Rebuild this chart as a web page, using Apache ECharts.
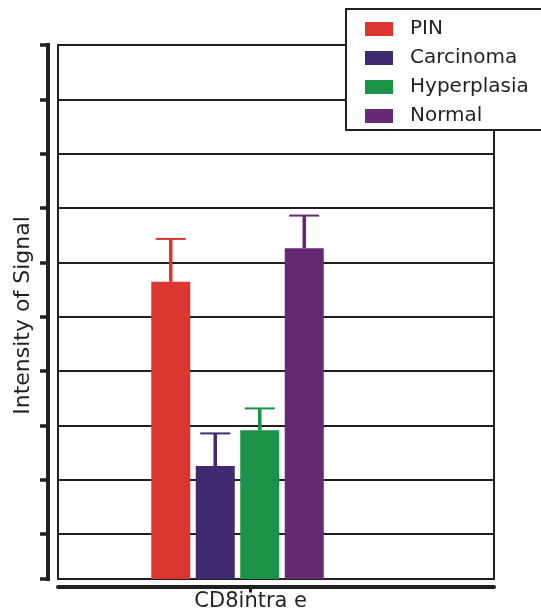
<!DOCTYPE html>
<html>
<head>
<meta charset="utf-8">
<script src="https://cdn.jsdelivr.net/npm/echarts@6/dist/echarts.min.js"></script>
<style>html,body{margin:0;padding:0;background:#fff}#c{width:541px;height:615px}</style>
</head>
<body>
<div id="c"></div>
<script>
// ---- data ----
const categories = ['CD8intra e'];
const groups = ['PIN', 'Carcinoma', 'Hyperplasia', 'Normal'];
const means = [5.47, 2.08, 2.74, 6.09];
const errors = [0.79, 0.60, 0.40, 0.60];
const axisMax = 9.83;
const axisInterval = 1;

// ---- styles ----
const colors = ['#DB3730', '#402A6F', '#1A9248', '#652873'];
const INK = '#231f20';
const FONT = 'DejaVu Sans';
const BAR_W = 39;
const BAR_GAP = 0.141;
const PITCH = BAR_W * (1 + BAR_GAP);

const chart = echarts.init(document.getElementById('c'), null, {renderer: 'canvas'});

const barSeries = groups.map((g, i) => ({
  name: g,
  type: 'bar',
  xAxisIndex: 1,
  yAxisIndex: 1,
  data: [means[i]],
  barWidth: BAR_W,
  barGap: (BAR_GAP * 100) + '%',
  itemStyle: {color: colors[i]},
  z: 2
}));

const errorSeries = {
  type: 'custom',
  xAxisIndex: 1,
  yAxisIndex: 1,
  silent: true,
  z: 3,
  data: groups.map((g, i) => [0, means[i], means[i] + errors[i], i]),
  renderItem: (params, api) => {
    const idx = api.value(3);
    const base = api.coord([api.value(0), api.value(1)]);
    const top = api.coord([api.value(0), api.value(2)]);
    const x = base[0] + (idx - 1.5) * PITCH;
    const c = colors[idx];
    return {
      type: 'group',
      children: [
        {type: 'line', shape: {x1: x, y1: base[1], x2: x, y2: top[1]}, style: {stroke: c, lineWidth: 3.5}},
        {type: 'line', shape: {x1: x - 15, y1: top[1], x2: x + 15, y2: top[1]}, style: {stroke: c, lineWidth: 2}}
      ]
    };
  }
};

chart.setOption({
  animation: false,
  textStyle: {fontFamily: FONT, color: INK},
  grid: [
    {left: 58, top: 45, width: 436, height: 534, show: true, borderColor: INK, borderWidth: 2, backgroundColor: 'transparent'},
    {left: 58, top: 45, width: 359, height: 534},
    {left: 58, top: 45, width: 385.4, height: 534}
  ],
  xAxis: [
    {gridIndex: 0, type: 'category', data: [''], position: 'bottom', offset: 7.5,
     axisLine: {show: true, onZero: false, lineStyle: {color: INK, width: 4}},
     axisTick: {show: false}, axisLabel: {show: false}, splitLine: {show: false}},
    {gridIndex: 1, type: 'category', data: categories, show: false},
    {gridIndex: 2, type: 'category', data: categories, position: 'bottom', offset: 7.5,
     axisLine: {show: false, onZero: false},
     axisTick: {show: true, alignWithLabel: true, length: 6, lineStyle: {color: INK, width: 3}},
     axisLabel: {margin: 5, fontSize: 21, color: INK, fontFamily: FONT},
     splitLine: {show: false}}
  ],
  yAxis: [
    {gridIndex: 0, type: 'value', inverse: true, min: 0, max: axisMax, interval: axisInterval,
     position: 'left', offset: 10,
     name: 'Intensity of Signal', nameLocation: 'middle', nameGap: 14,
     nameTextStyle: {fontSize: 22, color: INK, fontFamily: FONT, padding: [0, 7, 0, 0]},
     axisLine: {show: true, onZero: false, lineStyle: {color: INK, width: 4, cap: 'square'}},
     axisTick: {show: true, length: 8, lineStyle: {color: INK, width: 3.5}},
     axisLabel: {show: false},
     splitLine: {show: true, lineStyle: {color: INK, width: 2}}},
    {gridIndex: 1, type: 'value', min: 0, max: axisMax, show: false, splitLine: {show: false}},
    {gridIndex: 2, type: 'value', min: 0, max: axisMax, show: false, splitLine: {show: false}}
  ],
  legend: {
    data: groups,
    orient: 'vertical',
    left: 346, top: 9,
    padding: [10, 20, 4, 19],
    itemWidth: 28, itemHeight: 14, itemGap: 9,
    icon: 'rect',
    backgroundColor: '#fff',
    borderColor: INK, borderWidth: 2, borderRadius: 0,
    selectedMode: false,
    textStyle: {fontSize: 20, color: INK, fontFamily: FONT, lineHeight: 20, padding: [0, 0, 0, 12]}
  },
  series: [...barSeries, errorSeries]
});
</script>
</body>
</html>
